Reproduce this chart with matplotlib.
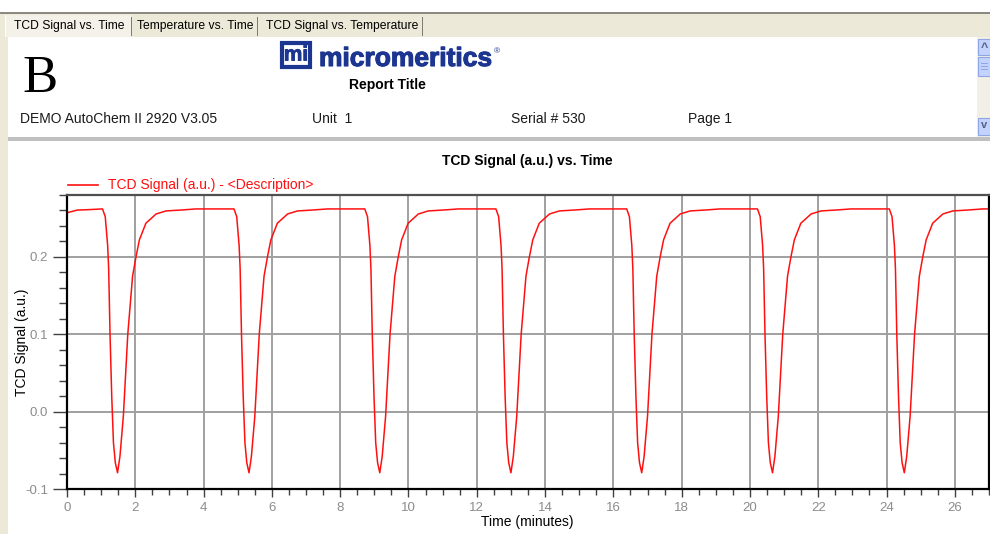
import numpy as np
import matplotlib.pyplot as plt
import matplotlib.patheffects as pe
from matplotlib.patches import Rectangle
from matplotlib.ticker import MultipleLocator, FormatStrFormatter

W, H = 990, 534

# peak minima (minutes)
peak_times = [1.48, 5.33, 9.16, 13.0, 16.83, 20.66, 24.52]
# shape of one pulse: time offset from the minimum, TCD signal
pulse_dt = [-0.44, -0.36, -0.29, -0.26, -0.22, -0.17, -0.12, -0.065, 0.0,
            0.07, 0.17, 0.30, 0.44, 0.54, 0.64, 0.83, 1.13, 1.42, 1.9, 2.3]
pulse_tcd = [0.262, 0.252, 0.215, 0.185, 0.10, 0.02, -0.04, -0.066, -0.079,
             -0.058, -0.006, 0.10, 0.175, 0.20, 0.222, 0.2435, 0.2555, 0.2594, 0.2607, 0.262]
start_t = [0.0, 0.3, 0.6]
start_tcd = [0.257, 0.2605, 0.261]
end_t = [27.0]
end_tcd = [0.262]

tabs = ["TCD Signal vs. Time", "Temperature vs. Time", "TCD Signal vs. Temperature"]
tab_x = [14, 137, 266]
tab_sep = [131, 257, 422]
header_items = [("DEMO AutoChem II 2920 V3.05", 20), ("Unit  1", 312),
                ("Serial # 530", 511), ("Page 1", 688)]

t = list(start_t)
y = list(start_tcd)
for p in peak_times:
    t += [p + d for d in pulse_dt]
    y += pulse_tcd
t += end_t
y += end_tcd

plt.rcParams['font.family'] = ['Liberation Sans', 'DejaVu Sans']
fig = plt.figure(figsize=(W / 100, H / 100), dpi=100)


def fx(x):
    return x / W


def fy(yy):
    return 1 - yy / H


def box(x0, y0, x1, y1, **kw):
    fig.patches.append(Rectangle((fx(x0), fy(y1)), (x1 - x0) / W, (y1 - y0) / H,
                                 transform=fig.transFigure, **kw))


# window chrome
box(0, 12, W, 14, color='#8c8a80', lw=0)
box(0, 14, W, 37, color='#ece9d8', lw=0)
box(0, 37, 8, H, color='#ece9d8', lw=0)
box(5, 15, 131, 37, facecolor='#f4f2e8', edgecolor='none')
box(5, 15, 6, 37, color='white', lw=0)
for xs in tab_sep:
    box(xs, 17, xs + 1, 36, color='#7f7d72', lw=0)
for lab, xt in zip(tabs, tab_x):
    fig.text(fx(xt), fy(26), lab, fontsize=8.7, va='center', ha='left', color='black')

# scrollbar
box(977, 37, W, 137, color='#f1efe6', lw=0)
for y0, y1 in [(39, 55), (57, 76), (118, 135)]:
    box(978, y0, W, y1, facecolor='#c3d3fd', edgecolor='#8ea6e6', lw=0.8)
fig.text(fx(984), fy(48), "^", fontsize=9, fontweight='bold', color='#4d6185', ha='center', va='center')
fig.text(fx(984), fy(125), "v", fontsize=8, fontweight='bold', color='#4d6185', ha='center', va='center')
for yl in [63, 66, 69]:
    box(981, yl, 988, yl + 1, color='#8ea6e6', lw=0)

# header separator
box(8, 137, W, 141, color='#c0c0c0', lw=0)

# report header
navy = '#1b3590'
fig.text(fx(22), fy(92), "B", family='Liberation Serif', fontsize=38, ha='left', va='baseline')
fig.text(fx(296), fy(55), "mi", fontsize=15, fontweight='bold', color=navy,
         ha='center', va='center',
         path_effects=[pe.withStroke(linewidth=0.6, foreground=navy)],
         bbox=dict(boxstyle='square,pad=0.1', fc='white', ec=navy, lw=3))
fig.text(fx(319), fy(66), "micromeritics", fontsize=19, fontweight='bold',
         color=navy, ha='left', va='baseline',
         path_effects=[pe.withStroke(linewidth=0.8, foreground=navy)])
fig.text(fx(494), fy(52), "®", fontsize=6, color=navy, ha='left', va='center')
fig.text(fx(387), fy(85), "Report Title", fontsize=10, fontweight='bold', ha='center', va='center')
for lab, xt in header_items:
    fig.text(fx(xt), fy(119), lab, fontsize=10, ha='left', va='center', color='#1a1a1a')

# chart
ax = fig.add_axes([fx(67), fy(489), (989 - 67) / W, (489 - 195) / H])
ax.plot(t, y, color='#ff1010', lw=1.1, label='TCD Signal (a.u.) - <Description>')
ax.set_xlim(0, 27)
ax.set_ylim(-0.1, 0.28)
ax.xaxis.set_major_locator(MultipleLocator(2))
ax.xaxis.set_minor_locator(MultipleLocator(0.5))
ax.yaxis.set_major_locator(MultipleLocator(0.1))
ax.yaxis.set_minor_locator(MultipleLocator(0.02))
ax.yaxis.set_major_formatter(FormatStrFormatter('%.1f'))
ax.grid(True, which='major', color='#a0a0a0', lw=1.4)
ax.set_axisbelow(True)
ax.tick_params(which='major', direction='out', length=6, width=1, color='#404040',
               labelcolor='#8c8c8c', labelsize=9.5)
ax.tick_params(which='minor', direction='out', length=4, width=1, color='#404040')
ax.tick_params(axis='y', which='major', length=10)
ax.tick_params(axis='y', which='minor', length=6)
for s in ['left', 'bottom', 'right']:
    ax.spines[s].set_color('black')
    ax.spines[s].set_linewidth(1.6)
ax.spines['top'].set_color('#505050')
ax.spines['top'].set_linewidth(1.6)

fig.text(fx(527), fy(161), "TCD Signal (a.u.) vs. Time", fontsize=10, fontweight='bold',
         ha='center', va='center')
fig.text(fx(527), fy(522), "Time (minutes)", fontsize=10, ha='center', va='center')
fig.text(fx(22), fy(342), "TCD Signal (a.u.)", fontsize=10, rotation=90, ha='center', va='center')
fig.lines.append(plt.Line2D([fx(68), fx(98)], [fy(185), fy(185)], color='#ff1010', lw=1.2,
                            transform=fig.transFigure))
fig.text(fx(108), fy(185), ax.get_lines()[0].get_label(), fontsize=10, color='#ff1010',
         ha='left', va='center')

fig.savefig('out.png', dpi=100)
